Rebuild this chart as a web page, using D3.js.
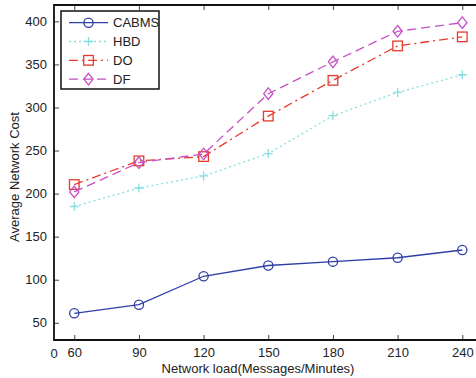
<!DOCTYPE html>
<html><head><meta charset="utf-8">
<script src="https://cdn.jsdelivr.net/npm/d3@7"></script>
<style>body{margin:0;background:#fff}svg{display:block}text{font-family:"Liberation Sans",Arial,sans-serif;font-size:13px;fill:#222}</style>
</head><body><svg id="c" width="476" height="378"></svg>
<script>
const loads = [60, 90, 120, 150, 180, 210, 240];
const cabms = [61, 71, 104, 116.5, 121, 125.5, 134.5];
const hbd = [185, 206.5, 220.5, 246.5, 290.5, 317.5, 338];
const dOpt = [210.5, 238, 243, 290, 331.5, 371.5, 382];
const df = [202, 236, 246, 316, 353, 388.5, 398.5];
const xTicks = [60, 90, 120, 150, 180, 210, 240];
const yTicks = [50, 100, 150, 200, 250, 300, 350, 400];
const seriesNames = ["CABMS", "HBD", "DO", "DF"];

const series = [
  {name: seriesNames[0], values: cabms, color: "#2f3fa6", dash: null, marker: "circle"},
  {name: seriesNames[1], values: hbd, color: "#86dede", dash: "2,3", marker: "plus"},
  {name: seriesNames[2], values: dOpt, color: "#e8392d", dash: "9,4,2,4", marker: "square"},
  {name: seriesNames[3], values: df, color: "#c64fc6", dash: "9,5", marker: "diamond"}
];

const svg = d3.select("#c");
const pLeft = 54, pTop = 5, pBottom = 340, pRight = 486;
const x = d3.scaleLinear().domain([50.6, 251]).range([pLeft, pRight]);
const y = d3.scaleLinear().domain([30, 419]).range([pBottom, pTop]);

function marker(g, type, cx, cy, color) {
  if (type === "circle") g.append("circle").attr("cx", cx).attr("cy", cy).attr("r", 4.6).attr("fill", "none").attr("stroke", color).attr("stroke-width", 1.3);
  else if (type === "square") g.append("rect").attr("x", cx - 4.8).attr("y", cy - 4.8).attr("width", 9.6).attr("height", 9.6).attr("fill", "none").attr("stroke", color).attr("stroke-width", 1.3);
  else if (type === "diamond") g.append("path").attr("d", `M${cx},${cy-5.8}L${cx+4.6},${cy}L${cx},${cy+5.8}L${cx-4.6},${cy}Z`).attr("fill", "none").attr("stroke", color).attr("stroke-width", 1.3);
  else if (type === "plus") g.append("path").attr("d", `M${cx-4.5},${cy}H${cx+4.5}M${cx},${cy-4.5}V${cy+4.5}`).attr("fill", "none").attr("stroke", color).attr("stroke-width", 1.3);
}

const xb = d3.axisBottom(x).tickValues(xTicks).tickSize(-5).tickPadding(8).tickFormat(d3.format("d"));
const gxb = svg.append("g").attr("transform", `translate(0,${pBottom})`).call(xb);
gxb.select(".domain").remove();
gxb.selectAll("line").attr("stroke", "#444").attr("stroke-width", 1);
gxb.selectAll("text").style("font-size", "13px").attr("fill", "#222");
svg.append("text").attr("x", x(50.6)).attr("y", pBottom + 18).attr("text-anchor", "middle").text("0");
const xt = d3.axisTop(x).tickValues(xTicks).tickSize(-5).tickFormat("");
const gxt = svg.append("g").attr("transform", `translate(0,${pTop})`).call(xt);
gxt.select(".domain").remove();
gxt.selectAll("line").attr("stroke", "#444");
const yl = d3.axisLeft(y).tickValues(yTicks).tickSize(-5).tickPadding(7);
const gyl = svg.append("g").attr("transform", `translate(${pLeft},0)`).call(yl);
gyl.select(".domain").remove();
gyl.selectAll("line").attr("stroke", "#444");
gyl.selectAll("text").style("font-size", "13px").attr("fill", "#222");
svg.append("path").attr("d", `M${pRight},${pTop}H${pLeft}V${pBottom}H${pRight}`).attr("fill", "none").attr("stroke", "#111").attr("stroke-width", 1.8);

const line = d3.line().x((d, i) => x(loads[i])).y(d => y(d));
series.forEach(s => {
  svg.append("path").datum(s.values).attr("d", line).attr("fill", "none").attr("stroke", s.color).attr("stroke-width", 1.3).attr("stroke-dasharray", s.dash);
  const g = svg.append("g");
  s.values.forEach((v, i) => marker(g, s.marker, x(loads[i]), y(v), s.color));
});

const lg = svg.append("g");
lg.append("rect").attr("x", 61).attr("y", 11).attr("width", 98).attr("height", 78).attr("fill", "#fff").attr("stroke", "#111").attr("stroke-width", 1.5);
series.forEach((s, i) => {
  const ly = 22.7 + i * 18.8;
  lg.append("line").attr("x1", 69).attr("x2", 108).attr("y1", ly).attr("y2", ly).attr("stroke", s.color).attr("stroke-width", 1.3).attr("stroke-dasharray", s.dash);
  marker(lg, s.marker, 88.5, ly, s.color);
  lg.append("text").attr("x", 113).attr("y", ly + 4.6).text(s.name);
});

svg.append("text").attr("x", 258).attr("y", 373).attr("text-anchor", "middle").text("Network load(Messages/Minutes)");
svg.append("text").attr("transform", "translate(19,177) rotate(-90)").attr("text-anchor", "middle").text("Average Network Cost");
</script></body></html>
